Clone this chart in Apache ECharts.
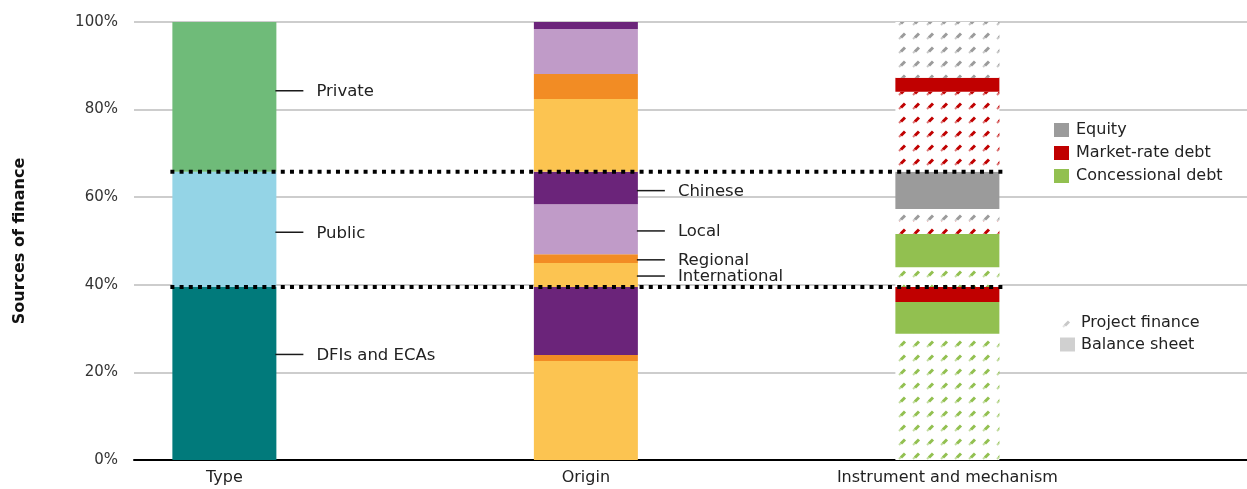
<!DOCTYPE html>
<html>
<head>
<meta charset="utf-8">
<script src="https://cdn.jsdelivr.net/npm/echarts@6/dist/echarts.min.js"></script>
<style>
html,body{margin:0;padding:0;background:#fff;}
#chart{width:1247px;height:489px;}
</style>
</head>
<body>
<div id="chart"></div>
<script>
// ---------- DATA ----------
const categories = ['Type', '', 'Origin', '', 'Instrument and mechanism', ''];
const yTicks = [0, 20, 40, 60, 80, 100];

const typeNames = ['DFIs and ECAs', 'Public', 'Private'];
const typeValues = [39.5, 26.3, 34.2];

const originNames = ['International', 'Regional', 'Chinese',
                     'International', 'Regional', 'Local', 'Chinese',
                     'International', 'Regional', 'Local', 'Chinese'];
const originValues = [22.6, 1.4, 15.5,
                      5.5, 2.0, 11.4, 7.4,
                      16.6, 5.7, 10.3, 1.6];

const instrumentNames = ['Concessional debt', 'Concessional debt', 'Market-rate debt',
                         'Concessional debt', 'Concessional debt', 'Market-rate debt', 'Equity', 'Equity',
                         'Market-rate debt', 'Market-rate debt', 'Equity'];
const mechanismNames = ['Project finance', 'Balance sheet', 'Balance sheet',
                        'Project finance', 'Balance sheet', 'Project finance', 'Project finance', 'Balance sheet',
                        'Project finance', 'Balance sheet', 'Project finance'];
const instrumentValues = [28.8, 7.3, 3.4,
                          4.5, 7.6, 3.0, 2.7, 8.5,
                          18.3, 3.2, 12.7];

const annotationCats = [0, 0, 0, 2, 2, 2, 2];
const annotationValues = [84.3, 52.0, 24.1, 61.5, 52.3, 45.7, 42.0];
const annotationTexts = ['Private', 'Public', 'DFIs and ECAs', 'Chinese', 'Local', 'Regional', 'International'];

const legendInstruments = ['Equity', 'Market-rate debt', 'Concessional debt'];
const legendMechanisms = ['Project finance', 'Balance sheet'];

// ---------- STYLES ----------
const FONT = 'DejaVu Sans';
const typeColors = {'DFIs and ECAs': '#017a7b', 'Public': '#94d4e6', 'Private': '#6fbb79'};
const originColors = {'International': '#fcc451', 'Regional': '#f28c24', 'Local': '#c09bc8', 'Chinese': '#6b247a'};
const instrumentColors = {'Equity': '#9b9b9b', 'Market-rate debt': '#c00000', 'Concessional debt': '#92c050'};
const BAR_W = 104;

function makePattern(color) {
  const c = document.createElement('canvas');
  c.width = 14; c.height = 14;
  const ctx = c.getContext('2d');
  ctx.fillStyle = '#ffffff';
  ctx.fillRect(0, 0, 14, 14);
  ctx.strokeStyle = color;
  ctx.lineCap = 'butt';
  ctx.globalAlpha = 0.55;
  ctx.lineWidth = 2;
  ctx.beginPath();
  ctx.moveTo(3, 11);
  ctx.lineTo(5, 9);
  ctx.stroke();
  ctx.globalAlpha = 1;
  ctx.lineWidth = 3;
  ctx.beginPath();
  ctx.moveTo(5, 9.5);
  ctx.lineTo(9, 5.5);
  ctx.stroke();
  return {image: c, repeat: 'repeat'};
}

function seriesFor(catIndex, value, name, color) {
  const data = categories.map((_, i) => i === catIndex ? value : '-');
  return {
    type: 'bar', name: name, stack: 'total', barWidth: BAR_W,
    xAxisIndex: 1, yAxisIndex: 1,
    data: data, itemStyle: {color: color}, silent: true
  };
}

const series = [];
typeValues.forEach((v, i) => series.push(seriesFor(0, v, typeNames[i] + ' ', typeColors[typeNames[i]])));
originValues.forEach((v, i) => series.push(seriesFor(2, v, originNames[i] + ' (origin) ' + i, originColors[originNames[i]])));
instrumentValues.forEach((v, i) => {
  const col = instrumentColors[instrumentNames[i]];
  const fill = mechanismNames[i] === 'Project finance' ? makePattern(col) : col;
  series.push(seriesFor(4, v, instrumentNames[i] + ' – ' + mechanismNames[i] + ' ' + i, fill));
});

// legend dummy series
legendInstruments.forEach(n => series.push({
  type: 'bar', name: n, stack: 'total', xAxisIndex: 1, yAxisIndex: 1, barWidth: BAR_W,
  data: [], itemStyle: {color: instrumentColors[n]}
}));
series.push({type: 'bar', name: 'Project finance', stack: 'total', xAxisIndex: 1, yAxisIndex: 1, barWidth: BAR_W,
  data: [], itemStyle: {color: makePattern('#c8c8c8')}});
series.push({type: 'bar', name: 'Balance sheet', stack: 'total', xAxisIndex: 1, yAxisIndex: 1, barWidth: BAR_W,
  data: [], itemStyle: {color: '#d0d0d0'}});

// threshold dotted lines (cumulative type shares)
const thresholds = [typeValues[0], typeValues[0] + typeValues[1]];
series.push({
  type: 'custom', name: 'thresholds', xAxisIndex: 1, yAxisIndex: 1, z: 10, silent: true,
  data: thresholds.map(v => [0, v]),
  renderItem: function (params, api) {
    const p0 = api.coord([0, api.value(1)]);
    const p4 = api.coord([4, api.value(1)]);
    return {
      type: 'line',
      shape: {x1: p0[0] - BAR_W / 2 - 2, y1: p0[1], x2: p4[0] + BAR_W / 2 + 4, y2: p4[1]},
      style: {stroke: '#000', lineWidth: 4, lineDash: [4, 5.2]}
    };
  }
});

// annotation leader lines + labels
series.push({
  type: 'custom', name: 'annotations', xAxisIndex: 1, yAxisIndex: 1, z: 10, silent: true,
  data: annotationCats.map((c, i) => [c, annotationValues[i]]),
  renderItem: function (params, api) {
    const p = api.coord([api.value(0), api.value(1)]);
    const right = p[0] + BAR_W / 2;
    return {
      type: 'group',
      children: [
        {type: 'line', shape: {x1: right - 1, y1: p[1], x2: right + 27, y2: p[1]},
         style: {stroke: '#1a1a1a', lineWidth: 1.5}},
        {type: 'text', x: right + 40, y: p[1] + 1,
         style: {text: annotationTexts[params.dataIndex], fill: '#222', fontSize: 16.5, fontFamily: FONT,
                 align: 'left', verticalAlign: 'middle'}}
      ]
    };
  }
});

const chart = echarts.init(document.getElementById('chart'), null, {renderer: 'canvas'});
chart.setOption({
  animation: false,
  backgroundColor: '#fff',
  textStyle: {fontFamily: FONT},
  grid: [
    {left: 134, right: 0, top: 22, bottom: 29},
    {left: 134, width: 1084.5, top: 22, bottom: 29}
  ],
  legend: [
    {data: legendInstruments, orient: 'vertical', left: 1049, top: 117, itemWidth: 15, itemHeight: 14,
     itemGap: 7, icon: 'rect', selectedMode: false,
     textStyle: {fontSize: 16, color: '#222', fontFamily: FONT, padding: [0, 0, 0, 2]}},
    {data: legendMechanisms, orient: 'vertical', left: 1055, top: 310, itemWidth: 15, itemHeight: 14,
     itemGap: 5.5, icon: 'rect', selectedMode: false,
     textStyle: {fontSize: 16, color: '#222', fontFamily: FONT, padding: [0, 0, 0, 1]}}
  ],
  xAxis: [
    {type: 'value', gridIndex: 0, min: 0, max: 1, show: true,
     axisLine: {show: true, onZero: false, lineStyle: {color: '#000', width: 2}},
     axisTick: {show: false}, axisLabel: {show: false}, splitLine: {show: false}},
    {type: 'category', gridIndex: 1, data: categories,
     axisLine: {show: false}, axisTick: {show: false},
     axisLabel: {color: '#222', fontSize: 16, fontFamily: FONT, margin: 10, interval: 0}}
  ],
  yAxis: [
    {type: 'value', gridIndex: 0, min: 0, max: 100, interval: 20,
     name: 'Sources of finance', nameLocation: 'middle', nameGap: 106,
     nameTextStyle: {fontSize: 16, fontWeight: 'bold', color: '#111', fontFamily: FONT},
     axisLine: {show: false}, axisTick: {show: false},
     axisLabel: {formatter: v => yTicks.includes(v) ? v + '%' : '', color: '#333', fontSize: 15, margin: 16, fontFamily: FONT},
     splitLine: {show: true, lineStyle: {color: '#bdbdbd', width: 1.5}}},
    {type: 'value', gridIndex: 1, min: 0, max: 100, show: false}
  ],
  series: series
});
</script>
</body>
</html>
